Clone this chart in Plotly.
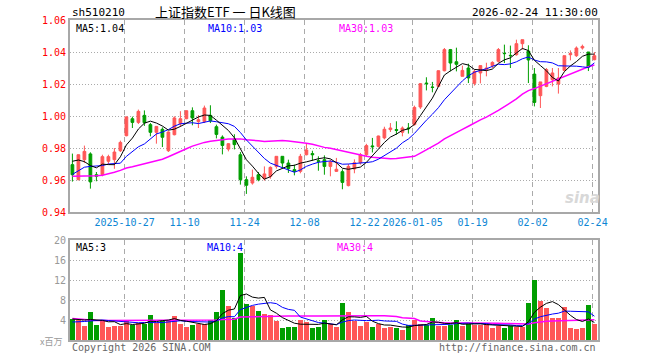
import pandas as pd
import plotly.graph_objects as go

# ---------------- data ----------------
holidays = ["2026-01-01", "2026-01-02", "2026-02-16", "2026-02-17", "2026-02-18",
            "2026-02-19", "2026-02-20", "2026-02-23"]
dates = [d.strftime("%Y-%m-%d") for d in pd.bdate_range("2025-10-14", "2026-02-24")
         if d.strftime("%Y-%m-%d") not in holidays]

opens = [0.9696, 0.9602, 0.9727, 0.9763, 0.9633, 0.9633, 0.9717, 0.9727, 0.9783, 0.9877,
         0.9983, 0.9960, 1.0004, 0.9946, 0.9898, 0.9917, 0.9783, 0.9883, 0.9952, 0.9983,
         1.0033, 0.9965, 0.9965, 1.0004, 0.9933, 0.9868, 0.9793, 0.9856, 0.9758, 0.9602,
         0.9581, 0.9633, 0.9608, 0.9623, 0.9685, 0.9748, 0.9706, 0.9665, 0.9654, 0.9758,
         0.9765, 0.9721, 0.9727, 0.9685, 0.9654, 0.9652, 0.9565, 0.9669, 0.9708, 0.9758,
         0.9813, 0.9810, 0.9863, 0.9915, 0.9915, 0.9898, 0.9925, 0.9946, 1.0056, 1.0206,
         1.0181, 1.0185, 1.0283, 1.0415, 1.0339, 1.0248, 1.0300, 1.0204, 1.0269, 1.0290,
         1.0315, 1.0342, 1.0392, 1.0379, 1.0383, 1.0452, 1.0406, 1.0262, 1.0127, 1.0185,
         1.0227, 1.0200, 1.0285, 1.0383, 1.0377, 1.0425, 1.0400, 1.0352]
highs = [0.9765, 0.9760, 0.9815, 0.9773, 0.9650, 0.9758, 0.9758, 0.9800, 0.9846, 0.9998,
         0.9996, 1.0040, 1.0035, 0.9956, 0.9935, 0.9929, 0.9904, 0.9998, 1.0030, 1.0035,
         1.0054, 1.0006, 1.0065, 1.0067, 0.9946, 0.9879, 0.9831, 0.9886, 0.9775, 0.9623,
         0.9665, 0.9650, 0.9685, 0.9685, 0.9748, 0.9748, 0.9727, 0.9696, 0.9763, 0.9825,
         0.9783, 0.9748, 0.9754, 0.9727, 0.9738, 0.9667, 0.9700, 0.9729, 0.9769, 0.9826,
         0.9863, 0.9877, 0.9933, 0.9956, 0.9967, 0.9935, 0.9956, 1.0065, 1.0206, 1.0242,
         1.0213, 1.0285, 1.0425, 1.0419, 1.0427, 1.0315, 1.0327, 1.0290, 1.0315, 1.0333,
         1.0342, 1.0425, 1.0446, 1.0440, 1.0477, 1.0477, 1.0442, 1.0300, 1.0213, 1.0300,
         1.0300, 1.0300, 1.0377, 1.0410, 1.0435, 1.0446, 1.0400, 1.0400]
lows = [0.9590, 0.9598, 0.9706, 0.9546, 0.9592, 0.9623, 0.9696, 0.9670, 0.9775, 0.9873,
        0.9925, 0.9950, 0.9938, 0.9873, 0.9827, 0.9806, 0.9775, 0.9879, 0.9931, 0.9980,
        0.9942, 0.9925, 0.9956, 0.9956, 0.9860, 0.9760, 0.9779, 0.9791, 0.9571, 0.9513,
        0.9571, 0.9592, 0.9596, 0.9608, 0.9671, 0.9675, 0.9644, 0.9629, 0.9642, 0.9754,
        0.9721, 0.9658, 0.9633, 0.9623, 0.9650, 0.9542, 0.9560, 0.9642, 0.9696, 0.9750,
        0.9772, 0.9803, 0.9854, 0.9900, 0.9883, 0.9873, 0.9890, 0.9940, 1.0044, 1.0160,
        1.0148, 1.0181, 1.0279, 1.0279, 1.0279, 1.0248, 1.0206, 1.0190, 1.0204, 1.0248,
        1.0300, 1.0335, 1.0331, 1.0300, 1.0377, 1.0415, 1.0206, 1.0060, 1.0050, 1.0180,
        1.0185, 1.0140, 1.0279, 1.0348, 1.0369, 1.0415, 1.0281, 1.0348]
closes = [0.9633, 0.9758, 0.9779, 0.9588, 0.9623, 0.9746, 0.9746, 0.9775, 0.9835, 0.9994,
          0.9960, 1.0029, 0.9958, 0.9898, 0.9935, 0.9867, 0.9900, 0.9988, 0.9983, 1.0033,
          0.9988, 0.9977, 1.0050, 0.9970, 0.9885, 0.9816, 0.9827, 0.9821, 0.9602, 0.9567,
          0.9617, 0.9602, 0.9638, 0.9679, 0.9748, 0.9706, 0.9671, 0.9654, 0.9748, 0.9788,
          0.9758, 0.9717, 0.9685, 0.9713, 0.9667, 0.9585, 0.9685, 0.9708, 0.9758, 0.9815,
          0.9808, 0.9875, 0.9917, 0.9925, 0.9910, 0.9925, 0.9921, 1.0054, 1.0202, 1.0202,
          1.0179, 1.0283, 1.0415, 1.0331, 1.0323, 1.0285, 1.0238, 1.0279, 1.0315, 1.0300,
          1.0335, 1.0415, 1.0390, 1.0377, 1.0452, 1.0477, 1.0350, 1.0085, 1.0213, 1.0290,
          1.0269, 1.0238, 1.0377, 1.0390, 1.0425, 1.0435, 1.0306, 1.0377]
volumes = [4.3, 4.1, 2.8, 5.7, 3.0, 4.0, 2.7, 2.9, 2.8, 4.0,
           3.1, 3.5, 3.3, 5.0, 3.5, 4.1, 4.0, 4.8, 3.2, 2.7,
           3.0, 3.3, 3.3, 4.0, 5.7, 10.0, 6.8, 4.5, 17.5, 7.2,
           6.9, 5.8, 5.2, 5.0, 3.9, 2.5, 2.7, 2.7, 4.0, 3.7,
           2.5, 2.7, 4.0, 3.3, 2.7, 7.5, 5.7, 3.9, 2.8, 3.7,
           2.7, 3.3, 2.5, 2.7, 2.5, 2.0, 3.1, 4.1, 3.2, 3.1,
           4.5, 2.9, 2.9, 3.1, 4.0, 2.8, 3.2, 3.1, 3.1, 3.2,
           2.5, 2.8, 2.5, 2.8, 2.7, 2.7, 7.5, 12.0, 7.9, 6.5,
           4.5, 4.5, 6.7, 2.5, 2.3, 2.5, 7.0, 3.2]

# moving-average values before a full window exists
ma5_head = [0.9717, 0.9725, 0.9715, 0.9690]
ma10_head = [0.9635, 0.9660, 0.9680, 0.9685, 0.9688, 0.9690, 0.9700, 0.9703, 0.9705]
ma30_head = [0.9623, 0.9623, 0.9624, 0.9625, 0.9626, 0.9630, 0.9638, 0.9648, 0.9660, 0.9675,
             0.9683, 0.9692, 0.9700, 0.9709, 0.9718, 0.9730, 0.9745, 0.9760, 0.9777, 0.9795,
             0.9812, 0.9825, 0.9835, 0.9842, 0.9848, 0.9853, 0.9856, 0.9857, 0.9857]
vma5_head = [4.2, 4.1, 4.0, 4.1]
vma10_head = [3.6, 3.6, 3.7, 3.8, 3.9, 4.0, 3.9, 3.8, 3.7]
vma30_head = [4.3, 4.2, 4.0, 3.95, 3.9, 3.9, 3.9, 3.9, 3.9, 3.9,
              3.9, 3.9, 3.9, 3.9, 3.9, 3.9, 3.9, 3.9, 3.9, 3.9,
              3.9, 3.9, 3.9, 3.95, 4.0, 4.1, 4.15, 4.15, 4.6]

tick_dates = ["2025-10-27", "2025-11-10", "2025-11-24", "2025-12-08", "2025-12-22",
              "2026-01-05", "2026-01-19", "2026-02-02", "2026-02-24"]
tick_labels = ["2025-10-27", "11-10", "11-24", "12-08", "12-22",
               "2026-01-05", "01-19", "02-02", "02-24"]
price_ticks = [0.94, 0.96, 0.98, 1.00, 1.02, 1.04, 1.06]
vol_ticks = [4, 8, 12, 16, 20]


def moving_avg(vals, n, head):
    out = []
    for i in range(len(vals)):
        out.append(head[i] if i < n - 1 else sum(vals[i - n + 1:i + 1]) / n)
    return out


x = list(range(len(dates)))
ma5 = moving_avg(closes, 5, ma5_head)
ma10 = moving_avg(closes, 10, ma10_head)
ma30 = moving_avg(closes, 30, ma30_head)
vma5 = moving_avg(volumes, 5, vma5_head)
vma10 = moving_avg(volumes, 10, vma10_head)
vma30 = moving_avg(volumes, 30, vma30_head)

RED = "#ff5757"
GREEN = "#009e00"
GRID = "#aaaaaa"
MONO = "DejaVu Sans Mono, Liberation Mono, monospace"

fig = go.Figure()
fig.add_trace(go.Candlestick(
    x=x, open=opens, high=highs, low=lows, close=closes,
    increasing=dict(line=dict(color=RED, width=1), fillcolor=RED),
    decreasing=dict(line=dict(color=GREEN, width=1), fillcolor=GREEN),
    whiskerwidth=0, xaxis="x", yaxis="y", hoverinfo="skip"))
for vals, col, w in [(ma30, "#ff00ff", 1.5), (ma10, "#0000ff", 1), (ma5, "#000000", 1)]:
    fig.add_trace(go.Scatter(x=x, y=vals, mode="lines", line=dict(color=col, width=w),
                             xaxis="x", yaxis="y", hoverinfo="skip"))

bar_colors = [RED if c >= o else GREEN for o, c in zip(opens, closes)]
fig.add_trace(go.Bar(x=x, y=volumes, marker=dict(color=bar_colors, line=dict(width=0)),
                     width=0.78, xaxis="x2", yaxis="y2", hoverinfo="skip"))
for vals, col, w in [(vma30, "#ff00ff", 1.5), (vma10, "#0000ff", 1), (vma5, "#000000", 1)]:
    fig.add_trace(go.Scatter(x=x, y=vals, mode="lines", line=dict(color=col, width=w),
                             xaxis="x2", yaxis="y2", hoverinfo="skip"))

tickvals = [dates.index(d) - 0.3 for d in tick_dates]

L, R, T, B = 70, 598, 20, 340
W, H = R - L, B - T


def px(v):
    return (v - L) / W


def py(v):
    return (B - v) / H


axis_common = dict(showline=True, mirror=True, linecolor="#a8a8a8", linewidth=2,
                   ticks="", zeroline=False)

fig.update_layout(
    width=660, height=360,
    margin=dict(l=L, r=660 - R, t=T, b=360 - B),
    paper_bgcolor="white", plot_bgcolor="white",
    showlegend=False, boxgap=0.35, bargap=0,
    xaxis=dict(domain=[0, 1], range=[-0.4, 87.6], anchor="y",
               tickvals=tickvals, ticktext=tick_labels,
               tickfont=dict(family=MONO, size=10, color="#0d86d4"),
               showgrid=True, gridcolor=GRID, griddash="5px,4px", gridwidth=1,
               rangeslider=dict(visible=False), **axis_common),
    xaxis2=dict(domain=[0, 1], range=[-0.4, 87.6], anchor="y2", matches="x",
                tickvals=tickvals, showticklabels=False,
                showgrid=True, gridcolor=GRID, griddash="5px,4px", gridwidth=1,
                **axis_common),
    yaxis=dict(domain=[0.4, 1], range=[0.94, 1.06], anchor="x",
               tickvals=price_ticks, tickformat=".2f",
               tickfont=dict(family=MONO, size=10, color="#ff0000"),
               showgrid=True, gridcolor=GRID, griddash="1px,2px", gridwidth=1,
               **axis_common),
    yaxis2=dict(domain=[0, 0.3125], range=[0, 20], anchor="x2",
                tickvals=vol_ticks,
                tickfont=dict(family=MONO, size=10, color="#999999"),
                showgrid=True, gridcolor=GRID, griddash="1px,2px", gridwidth=1,
                **axis_common),
)


def note(text, xp, yp, color="#000000", anchor="left", size=10, family=MONO):
    fig.add_annotation(text=text, x=px(xp), y=py(yp), xref="paper", yref="paper",
                       xanchor=anchor, yanchor="middle", showarrow=False,
                       font=dict(family=family, size=size, color=color))


note("sh510210", 70, 12, size=11)
note("上证指数ETF 一 日K线图", 225, 11, anchor="center", size=13,
     family="Noto Sans CJK SC")
note("2026-02-24 11:30:00", 600, 12, anchor="right", size=11)
note("MA5:1.04", 74, 28)
note("MA10:1.03", 206, 28, color="#0000ff")
note("MA30:1.03", 337, 28, color="#ff00ff")
note("MA5:3", 74, 247)
note("MA10:4", 205, 247, color="#0000ff")
note("MA30:4", 335, 247, color="#ff00ff")
note("x百万", 64, 341, color="#999999", anchor="right", size=9,
     family="Noto Sans CJK SC")
note("Copyright 2026 SINA.COM", 70, 347, color="#666666")
note("http://finance.sina.com.cn", 598, 347, color="#666666", anchor="right")
note("<b><i>sina</i></b>", 582, 198, color="#d8d8d8", anchor="center", size=15,
     family="DejaVu Sans")

fig.write_html("out.html", config={"displayModeBar": False},
               post_script="document.body.style.margin='0px';")
